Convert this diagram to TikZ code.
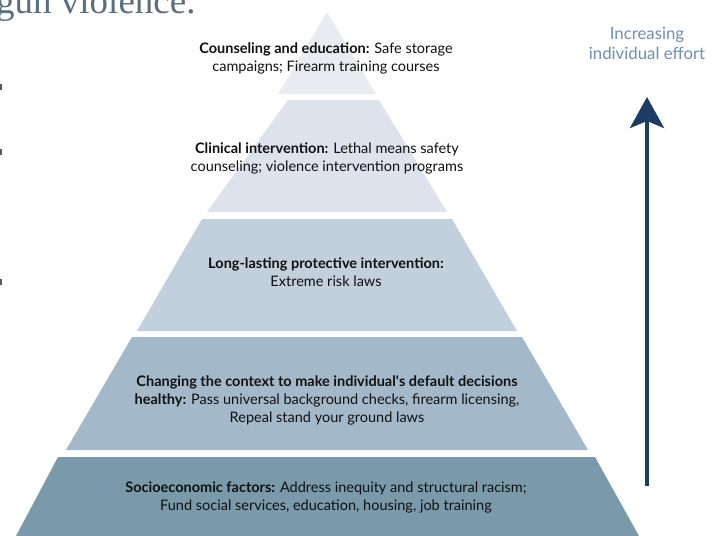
\documentclass[tikz,border=0pt]{standalone}
\usepackage{fontspec}
\setmainfont{Lato}
\newfontfamily\titlefont{Liberation Serif}
\usetikzlibrary{arrows.meta}
\definecolor{tonea}{HTML}{E9EBF0}
\definecolor{toneb}{HTML}{DEE2EC}
\definecolor{tonec}{HTML}{C2D0DD}
\definecolor{toned}{HTML}{A3B9CA}
\definecolor{tonee}{HTML}{7A9AAC}
\definecolor{titlecol}{HTML}{5B6E80}
\definecolor{effortcol}{HTML}{6F8FB5}
\definecolor{arrowcol}{HTML}{1D3C64}
\definecolor{textcol}{HTML}{111111}
\tikzset{
  tiertext/.style={align=center, text=textcol, font=\fontsize{14.5}{18}\selectfont, inner sep=0pt},
  efforttext/.style={align=center, text=effortcol, font=\fontsize{16.8}{20}\selectfont, inner sep=0pt},
  markbit/.style={fill=black!65}
}
\begin{document}
\begin{tikzpicture}[x=1pt,y=-1pt]
\useasboundingbox (0,0) rectangle (713,536);
\clip (0,0) rectangle (713,536);
\fill[white] (0,0) rectangle (713,536);
% title fragment
\node[anchor=base west, text=titlecol, font=\titlefont\fontsize{37}{40}\selectfont, inner sep=0pt] (title) at (-4,13) {gun violence.};
% left edge fragments
\fill[markbit] (0,84) rectangle (1.5,90);
\fill[markbit] (0,149) rectangle (1.5,155);
\fill[markbit] (0,279) rectangle (1.5,285);
% pyramid tiers
\fill[tonea] (327,12) -- (376,94) -- (278,94) -- cycle;
\fill[toneb] (288,100) -- (379,100) -- (447,212) -- (207,212) -- cycle;
\fill[tonec] (202,219) -- (452,219) -- (517,331) -- (137,331) -- cycle;
\fill[toned] (132,337) -- (522,337) -- (588,450) -- (66,450) -- cycle;
\fill[tonee] (58,457) -- (595,457) -- (639,536) -- (16,536) -- cycle;
% tier texts
\node[tiertext] (t1) at (326,58) {\textbf{Counseling and education:} Safe storage\\campaigns; Firearm training courses};
\node[tiertext] (t2) at (327,158.5) {\textbf{Clinical intervention:} Lethal means safety\\counseling; violence intervention programs};
\node[tiertext] (t3) at (326,272) {\textbf{Long-lasting protective intervention:}\\Extreme risk laws};
\node[tiertext] (t4) at (327,400.5) {\textbf{Changing the context to make individual\textquotesingle s default decisions}\\\textbf{healthy:} Pass universal background checks, firearm licensing,\\Repeal stand your ground laws};
\node[tiertext] (t5) at (326,497) {\textbf{Socioeconomic factors:} Address inequity and structural racism;\\Fund social services, education, housing, job training};
% effort label and arrow
\node[efforttext] (effort) at (647,43) {Increasing\\individual effort};
\coordinate (abot) at (647,486);
\coordinate (atop) at (647,97);
\draw[arrowcol, line width=4pt, -{Stealth[length=31pt,width=34pt,inset=7pt]}] (abot) -- (atop);
\end{tikzpicture}
\end{document}
